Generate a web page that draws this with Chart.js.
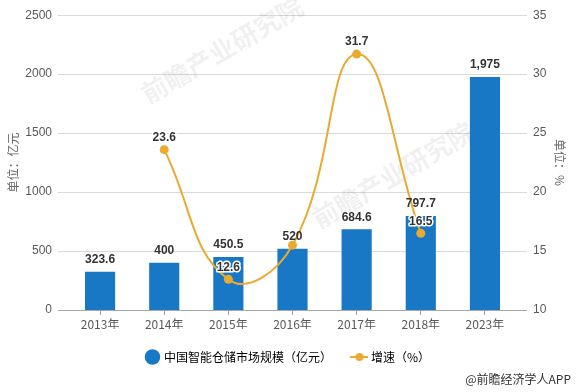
<!DOCTYPE html>
<html>
<head>
<meta charset="utf-8">
<script src="https://cdn.jsdelivr.net/npm/chart.js@4.4.1/dist/chart.umd.min.js"></script>
<style>
  html, body { margin: 0; padding: 0; background: #fff; }
  #wrap { position: relative; width: 577px; height: 392px; }
  #footer { position: absolute; right: 6px; top: 370px; font: 12px 'Noto Sans CJK SC', sans-serif; color: #333; }
</style>
</head>
<body>
<div id="wrap">
  <canvas id="grafico" width="577" height="392"></canvas>
  <div id="footer">@前瞻经济学人APP</div>
</div>
<script>
// --- dados ---
const anos = ['2013年', '2014年', '2015年', '2016年', '2017年', '2018年', '2023年'];
const mercado = [323.6, 400, 450.5, 520, 684.6, 797.7, 1975];
const crescimento = [null, 23.6, 12.6, 15.5, 31.7, 16.5, null];
const ticksEsquerda = [0, 500, 1000, 1500, 2000, 2500];
const ticksDireita = [10, 15, 20, 25, 30, 35];
const nomeBarra = '中国智能仓储市场规模（亿元）';
const nomeLinha = '增速（%）';

const AZUL = '#1878c6';
const LARANJA = '#eaaa32';
const FONTE = "'Liberation Sans', 'Noto Sans CJK SC', sans-serif";
const FONTE_CN = "'Noto Sans CJK SC', sans-serif";

// marcador da legenda: linha com ponto
const marcaLinha = document.createElement('canvas');
marcaLinha.width = 18; marcaLinha.height = 10;
(() => {
    const c = marcaLinha.getContext('2d');
    c.strokeStyle = LARANJA; c.lineWidth = 2;
    c.beginPath(); c.moveTo(0, 5); c.lineTo(18, 5); c.stroke();
    c.fillStyle = LARANJA;
    c.beginPath(); c.arc(9, 5, 4, 0, Math.PI * 2); c.fill();
})();

// grade horizontal um pouco mais larga que a área do gráfico + marca d'água
const gradePlugin = {
    id: 'grade',
    beforeDatasetsDraw(chart) {
        const { ctx, chartArea, scales } = chart;
        const y = scales.y;
        ctx.save();
        ctx.lineWidth = 1;
        ticksEsquerda.forEach(v => {
            const py = Math.round(y.getPixelForValue(v)) + 0.5;
            ctx.strokeStyle = v === 0 ? '#a6a6a6' : '#d9d9d9';
            ctx.beginPath();
            ctx.moveTo(chartArea.left - 10, py);
            ctx.lineTo(chartArea.right + 10, py);
            ctx.stroke();
        });
        // marca d'água clarinha
        ctx.fillStyle = 'rgba(0,0,0,0.06)';
        ctx.font = 'bold 26px ' + FONTE_CN;
        ctx.textAlign = 'center';
        ctx.textBaseline = 'middle';
        [[222, 50], [393, 175]].forEach(([wx, wy]) => {
            ctx.save();
            ctx.translate(wx, wy);
            ctx.rotate(-0.53);
            ctx.fillText('前瞻产业研究院', 0, 0);
            ctx.restore();
        });
        ctx.restore();
    }
};

// rótulos de valores
const rotulosPlugin = {
    id: 'rotulos',
    afterDatasetsDraw(chart) {
        const { ctx } = chart;
        ctx.save();
        ctx.font = 'bold 12px ' + FONTE;
        ctx.textAlign = 'center';
        ctx.textBaseline = 'middle';
        const barras = chart.getDatasetMeta(1).data;
        barras.forEach((el, i) => {
            const v = mercado[i];
            const txt = v >= 1000 ? v.toLocaleString('en-US') : String(v);
            ctx.fillStyle = '#333';
            ctx.fillText(txt, el.x, el.y - 12);
        });
        const pontos = chart.getDatasetMeta(0).data;
        pontos.forEach((el, i) => {
            const v = crescimento[i];
            if (v === null || i === 3) return; // 2016 fica escondido atrás do rótulo da barra
            ctx.lineWidth = 3;
            ctx.strokeStyle = '#fff';
            ctx.lineJoin = 'round';
            ctx.strokeText(String(v), el.x, el.y - 12);
            ctx.fillStyle = '#333';
            ctx.fillText(String(v), el.x, el.y - 12);
        });
        ctx.restore();
    }
};

new Chart(document.getElementById('grafico'), {
    data: {
        labels: anos,
        datasets: [
            {
                type: 'line',
                label: nomeLinha,
                data: crescimento,
                yAxisID: 'y1',
                borderColor: LARANJA,
                backgroundColor: LARANJA,
                borderWidth: 2,
                tension: 0.45,
                pointRadius: 4.5,
                pointBorderWidth: 0,
                pointStyle: 'circle',
                order: 0
            },
            {
                type: 'bar',
                label: nomeBarra,
                data: mercado,
                yAxisID: 'y',
                backgroundColor: AZUL,
                barPercentage: 0.47,
                categoryPercentage: 1,
                order: 1
            }
        ]
    },
    options: {
        responsive: false,
        animation: false,
        layout: { padding: { top: -1, bottom: 19 } },
        plugins: {
            legend: {
                position: 'bottom',
                labels: {
                    usePointStyle: true,
                    boxWidth: 11,
                    boxHeight: 11,
                    color: '#333',
                    font: { size: 12, family: FONTE_CN },
                    padding: 22,
                    generateLabels(chart) {
                        return [
                            { text: nomeBarra, fillStyle: AZUL, strokeStyle: AZUL, lineWidth: 0, pointStyle: 'circle', datasetIndex: 1 },
                            { text: nomeLinha, fillStyle: LARANJA, strokeStyle: LARANJA, lineWidth: 0, pointStyle: marcaLinha, datasetIndex: 0 }
                        ];
                    }
                }
            },
            tooltip: { enabled: false }
        },
        scales: {
            x: {
                grid: { display: true, drawOnChartArea: false, offset: false, tickLength: 5, color: '#a6a6a6' },
                border: { display: false },
                ticks: { color: '#595959', font: { size: 12, family: FONTE_CN }, padding: 2 },
                afterFit(s) { s.height = 19; }
            },
            y: {
                position: 'left',
                min: 0, max: 2500,
                afterBuildTicks(s) { s.ticks = ticksEsquerda.map(v => ({ value: v })); },
                grid: { display: false },
                border: { display: false },
                ticks: { color: '#595959', font: { size: 12, family: FONTE }, padding: 8, callback: v => String(v) },
                title: { display: true, text: '单位：亿元', color: '#666', font: { size: 12, family: FONTE_CN }, padding: { top: 6, bottom: 0 } },
                afterFit(s) { s.width = 68; }
            },
            y1: {
                position: 'right',
                min: 10, max: 35,
                afterBuildTicks(s) { s.ticks = ticksDireita.map(v => ({ value: v })); },
                grid: { display: false },
                border: { display: false },
                ticks: { color: '#595959', font: { size: 12, family: FONTE }, padding: 8, callback: v => String(v) },
                title: { display: true, text: '单位：%', color: '#666', font: { size: 12, family: FONTE_CN }, padding: { top: 10, bottom: 0 } },
                afterFit(s) { s.width = 60; }
            }
        }
    },
    plugins: [gradePlugin, rotulosPlugin]
});
</script>
</body>
</html>
